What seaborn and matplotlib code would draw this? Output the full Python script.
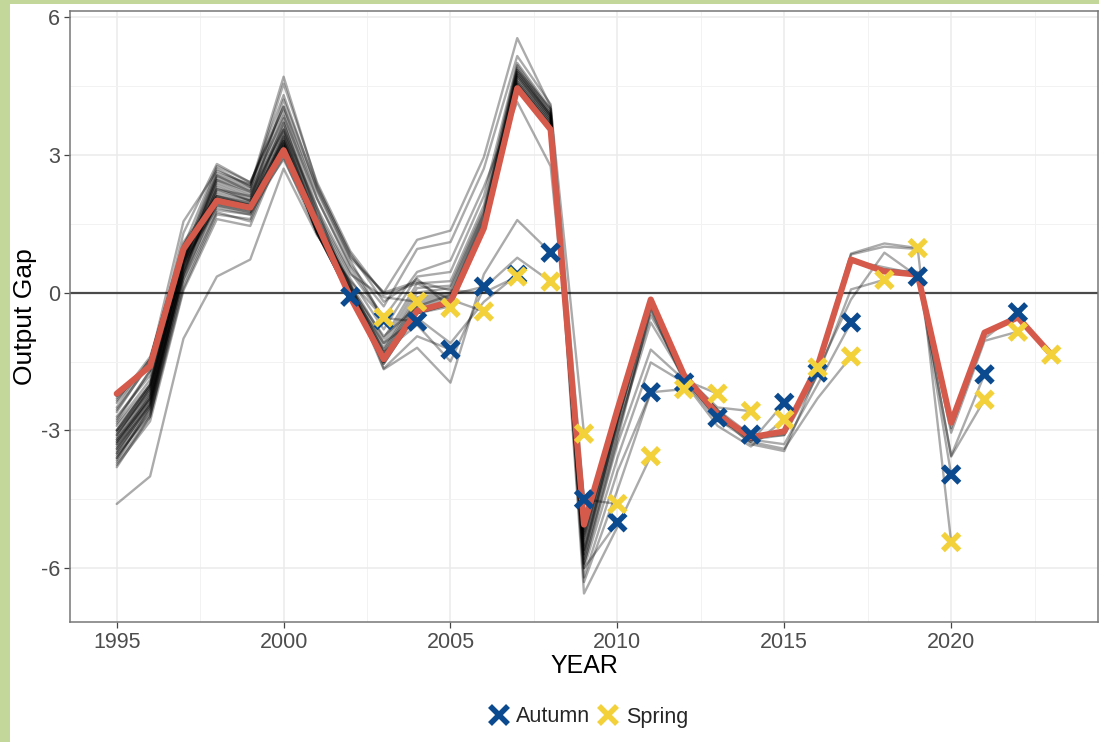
import matplotlib
matplotlib.use("Agg")
import matplotlib.pyplot as plt
from matplotlib.lines import Line2D
from matplotlib.patches import Rectangle
import pandas as pd
import seaborn as sns

FIRST_YEAR = 1995

# Output gap estimates by forecast vintage (each list starts in 1995 and
# ends with that vintage's estimate for its own year).
AUT_2002 = [-3.45, -2.45, 0.45, 2.25, 2.10, 3.55, 1.85, -0.09]
SPR_2003 = [-3.25, -2.20, 0.65, 2.45, 2.20, 3.85, 2.05, 0.55, -0.54]
AUT_2003 = [-3.00, -2.00, 0.85, 2.60, 2.35, 4.05, 2.20, 0.70, -0.60]
SPR_2004 = [-3.60, -2.60, 0.30, 2.00, 1.90, 3.70, 1.75, 0.40, -0.10, -0.20]
AUT_2004 = [-4.60, -4.00, -1.00, 0.35, 0.72, 2.70, 1.25, 0.25, -0.55, -0.63]
SPR_2005 = [-3.30, -2.30, 0.40, 2.30, 2.00, 4.20, 2.30, 0.85, -0.20, 0.30, -0.33]
AUT_2005 = [-3.70, -2.70, 0.10, 1.70, 1.60, 3.40, 1.50, 0.20, -1.65, -0.95, -1.24]
SPR_2006 = [-3.15, -2.10, 0.70, 2.50, 2.25, 4.55, 2.40, 0.90, -0.05, 0.20, -0.15, -0.41]
AUT_2006 = [-3.50, -2.50, 0.30, 1.80, 1.70, 3.30, 1.40, 0.10, -0.95, -0.30, -0.05, 0.13]
SPR_2007 = [-3.10, -2.05, 0.75, 2.55, 2.30, 4.70, 2.35, 0.80, 0.00, 0.24, 0.05, 0.00, 0.35]
AUT_2007 = [-3.55, -2.65, 0.20, 1.75, 1.55, 3.25, 1.30, 0.00, -1.10, -0.55, -1.10, -0.20, 0.39]
SPR_2008 = [-3.40, -2.40, 0.40, 1.90, 1.75, 3.45, 1.55, 0.15, -1.30, -0.70, -1.50, 0.10, 0.76, 0.24]
AUT_2008 = [-3.75, -2.80, 0.05, 1.60, 1.45, 3.20, 1.35, 0.05, -1.67, -1.20, -1.96, 0.40, 1.58, 0.87]
SPR_2009 = [-2.60, -1.50, 1.55, 2.65, 2.35, 4.30, 2.25, 0.75, 0.00, 1.15, 1.35, 2.95, 5.54, 4.05, -3.07]
AUT_2009 = [-2.80, -1.70, 1.30, 2.80, 2.40, 4.05, 2.05, 0.60, -0.30, 0.95, 1.10, 2.70, 5.15, 4.10, -4.50]
SPR_2010 = [-3.00, -2.00, 1.00, 2.75, 2.40, 3.95, 1.85, 0.45, -0.55, 0.45, 0.70, 2.30, 4.15, 2.75, -4.50, -4.60]
AUT_2010 = [-3.30, -2.25, 0.80, 2.70, 2.30, 3.80, 1.70, 0.30, -0.80, 0.35, 0.45, 2.10, 5.00, 4.00, -6.00, -5.00]
SPR_2011 = [-3.50, -2.40, 0.60, 2.55, 2.20, 3.70, 1.65, 0.20, -1.00, 0.20, 0.25, 1.90, 4.95, 3.95, -6.55, -5.10, -3.56]
AUT_2011 = [-3.20, -2.20, 0.70, 2.45, 2.15, 3.60, 1.60, 0.15, -1.10, 0.10, 0.15, 1.80, 4.90, 3.90, -6.30, -4.30, -2.17]
SPR_2012 = [-3.65, -2.50, 0.50, 2.40, 2.10, 3.55, 1.55, 0.10, -1.20, 0.00, 0.10, 1.75, 4.85, 4.00, -6.20, -3.90, -2.17, -2.10]
AUT_2012 = [-3.40, -2.30, 0.60, 2.35, 2.05, 3.50, 1.50, 0.05, -1.25, -0.10, 0.00, 1.70, 4.80, 3.90, -6.00, -3.60, -1.52, -1.96]
SPR_2013 = [-3.80, -2.70, 0.40, 2.20, 2.00, 3.40, 1.45, 0.00, -1.30, -0.15, -0.05, 1.65, 4.85, 3.85, -5.90, -3.30, -1.24, -1.90, -2.20]
AUT_2013 = [-3.10, -2.10, 0.75, 2.25, 2.00, 3.35, 1.40, 0.05, -1.35, -0.20, -0.10, 1.60, 4.75, 3.80, -5.70, -3.00, -0.65, -1.85, -2.72]
SPR_2014 = [-3.35, -2.45, 0.55, 2.10, 1.95, 3.30, 1.35, -0.05, -1.40, -0.25, -0.15, 1.55, 4.80, 3.85, -5.60, -2.90, -0.50, -1.80, -2.50, -2.58]
AUT_2014 = [-3.00, -2.05, 0.70, 2.05, 1.90, 3.25, 1.30, -0.10, -1.45, -0.30, -0.20, 1.50, 4.70, 3.80, -5.80, -3.10, -0.40, -1.90, -2.80, -3.09]
SPR_2015 = [-3.60, -2.55, 0.50, 2.00, 1.85, 3.20, 1.30, -0.10, -1.50, -0.35, -0.25, 1.45, 4.70, 3.75, -5.90, -3.20, -0.35, -1.95, -2.90, -3.35, -2.76]
AUT_2015 = [-2.85, -1.90, 0.85, 2.15, 1.95, 3.30, 1.35, -0.05, -1.40, -0.40, -0.20, 1.50, 4.75, 3.85, -5.70, -2.80, -0.30, -1.85, -2.75, -3.25, -2.40]
SPR_2016 = [-3.25, -2.35, 0.60, 1.95, 1.80, 3.15, 1.30, -0.10, -1.50, -0.45, -0.25, 1.45, 4.65, 3.75, -5.60, -2.85, -0.25, -1.90, -2.70, -3.20, -3.10, -1.63]
AUT_2016 = [-2.70, -1.80, 0.90, 2.10, 1.90, 3.20, 1.40, -0.05, -1.45, -0.40, -0.20, 1.45, 4.60, 3.70, -5.50, -2.80, -0.20, -1.85, -2.65, -3.30, -3.45, -1.74]
SPR_2017 = [-3.05, -2.15, 0.70, 1.90, 1.75, 3.10, 1.35, -0.10, -1.50, -0.40, -0.20, 1.40, 4.60, 3.70, -5.40, -2.75, -0.20, -1.85, -2.60, -3.25, -3.40, -2.30, -1.39]
AUT_2017 = [-2.90, -2.00, 0.80, 1.95, 1.80, 3.05, 1.40, -0.05, -1.45, -0.40, -0.25, 1.40, 4.55, 3.65, -5.30, -2.70, -0.15, -1.80, -2.55, -3.20, -3.30, -2.00, -0.65]
SPR_2018 = [-3.20, -2.30, 0.65, 1.85, 1.70, 2.95, 1.30, -0.10, -1.55, -0.45, -0.30, 1.35, 4.55, 3.65, -5.35, -2.70, -0.20, -1.75, -2.60, -3.15, -3.10, -1.80, 0.07, 0.28]
SPR_2019 = [-2.50, -1.45, 1.10, 2.10, 1.90, 3.00, 1.50, -0.05, -1.50, -0.40, -0.20, 1.40, 4.50, 3.60, -5.20, -2.60, -0.15, -1.80, -2.55, -3.10, -3.05, -1.55, 0.85, 1.07, 0.97]
AUT_2019 = [-2.75, -1.70, 0.95, 2.00, 1.85, 2.90, 1.45, -0.10, -1.55, -0.45, -0.25, 1.35, 4.50, 3.60, -5.25, -2.65, -0.20, -1.80, -2.60, -3.20, -3.05, -1.70, -0.15, 0.87, 0.35]
SPR_2020 = [-2.55, -1.55, 1.05, 2.05, 1.90, 3.05, 1.50, -0.05, -1.50, -0.40, -0.20, 1.40, 4.50, 3.60, -5.15, -2.60, -0.15, -1.80, -2.60, -3.15, -3.00, -1.60, 0.83, 1.00, 0.95, -5.43]
AUT_2020 = [-2.40, -1.45, 1.00, 2.00, 1.85, 3.05, 1.50, -0.05, -1.45, -0.40, -0.20, 1.40, 4.45, 3.55, -5.10, -2.60, -0.15, -1.80, -2.60, -3.15, -3.00, -1.60, 0.70, 0.55, 0.40, -3.96]
SPR_2021 = [-2.35, -1.40, 1.00, 2.00, 1.85, 3.10, 1.50, -0.10, -1.45, -0.40, -0.20, 1.40, 4.45, 3.55, -5.05, -2.55, -0.15, -1.80, -2.60, -3.15, -3.00, -1.60, 0.70, 0.50, 0.45, -3.57, -2.33]
AUT_2021 = [-2.30, -1.55, 0.95, 2.00, 1.85, 3.10, 1.50, -0.10, -1.45, -0.40, -0.20, 1.40, 4.45, 3.55, -5.05, -2.55, -0.15, -1.80, -2.60, -3.15, -3.00, -1.60, 0.70, 0.50, 0.40, -3.55, -1.78]
SPR_2022 = [-2.25, -1.60, 0.95, 2.00, 1.85, 3.10, 1.50, -0.10, -1.45, -0.40, -0.20, 1.40, 4.45, 3.55, -5.00, -2.55, -0.15, -1.80, -2.60, -3.15, -3.00, -1.60, 0.68, 0.48, 0.40, -3.05, -1.05, -0.85]
AUT_2022 = [-2.25, -1.60, 0.95, 2.00, 1.85, 3.10, 1.50, -0.10, -1.45, -0.40, -0.20, 1.40, 4.45, 3.55, -5.00, -2.55, -0.15, -1.80, -2.60, -3.15, -3.00, -1.60, 0.68, 0.46, 0.40, -2.95, -1.00, -0.43]
# Latest vintage (highlighted)
SPR_2023 = [-2.20, -1.60, 0.95, 2.00, 1.85, 3.10, 1.50, -0.10, -1.45, -0.40, -0.20, 1.40, 4.45, 3.55, -5.05, -2.55, -0.15, -1.80, -2.65, -3.15, -3.02, -1.60, 0.72, 0.46, 0.39, -2.83, -0.87, -0.54, -1.35]

VINTAGES = [
    ("Autumn", AUT_2002), ("Spring", SPR_2003), ("Autumn", AUT_2003),
    ("Spring", SPR_2004), ("Autumn", AUT_2004), ("Spring", SPR_2005),
    ("Autumn", AUT_2005), ("Spring", SPR_2006), ("Autumn", AUT_2006),
    ("Spring", SPR_2007), ("Autumn", AUT_2007), ("Spring", SPR_2008),
    ("Autumn", AUT_2008), ("Spring", SPR_2009), ("Autumn", AUT_2009),
    ("Spring", SPR_2010), ("Autumn", AUT_2010), ("Spring", SPR_2011),
    ("Autumn", AUT_2011), ("Spring", SPR_2012), ("Autumn", AUT_2012),
    ("Spring", SPR_2013), ("Autumn", AUT_2013), ("Spring", SPR_2014),
    ("Autumn", AUT_2014), ("Spring", SPR_2015), ("Autumn", AUT_2015),
    ("Spring", SPR_2016), ("Autumn", AUT_2016), ("Spring", SPR_2017),
    ("Autumn", AUT_2017), ("Spring", SPR_2018), ("Spring", SPR_2019),
    ("Autumn", AUT_2019), ("Spring", SPR_2020), ("Autumn", AUT_2020),
    ("Spring", SPR_2021), ("Autumn", AUT_2021), ("Spring", SPR_2022),
    ("Autumn", AUT_2022), ("Spring", SPR_2023),
]

X_TICKS = [1995, 2000, 2005, 2010, 2015, 2020]
Y_TICKS = [-6, -3, 0, 3, 6]

BLUE = "#0B4A8E"
YELLOW = "#F2D13A"
RED = "#D65A4B"
FRAME_GREEN = "#C4D79B"

# Long-format tables: every vintage path, plus each vintage's own-year estimate
rows, ends = [], []
for i, (season, values) in enumerate(VINTAGES):
    last_year = FIRST_YEAR + len(values) - 1
    label = f"{season} {last_year}"
    for k, v in enumerate(values):
        rows.append({"vintage": label, "order": i, "year": FIRST_YEAR + k, "gap": v})
    ends.append({"season": season, "year": last_year, "gap": values[-1]})
paths = pd.DataFrame(rows)
ends = pd.DataFrame(ends)
ends["season"] = pd.Categorical(ends["season"], ["Autumn", "Spring"])
ends = ends.sort_values("season", kind="stable")
latest_label = paths.loc[paths["order"] == paths["order"].max(), "vintage"].iloc[0]
latest = paths[paths["vintage"] == latest_label]

sns.set_theme(style="whitegrid")
plt.rcParams["font.family"] = ["Liberation Sans", "DejaVu Sans"]

W, H = 1099, 742
fig = plt.figure(figsize=(W / 100, H / 100), dpi=100)
fig.patch.set_facecolor("white")
ax = fig.add_axes([70 / W, 1 - 622 / H, (1098 - 70) / W, (622 - 11) / H])
ax.set_facecolor("white")

ax.axhline(0, color="#4a4a4a", linewidth=1.6, zorder=1)

sns.lineplot(data=paths, x="year", y="gap", units="vintage", estimator=None,
             color="black", alpha=0.33, linewidth=1.7, legend=False, ax=ax,
             zorder=2)
sns.lineplot(data=latest, x="year", y="gap", color=RED, linewidth=4.4,
             legend=False, ax=ax, zorder=3)
sns.scatterplot(data=ends, x="year", y="gap", hue="season",
                palette={"Autumn": BLUE, "Spring": YELLOW}, marker="x",
                s=140, linewidth=4.0, legend=False, ax=ax, zorder=4)

ax.set_xlim(1993.6, 2024.4)
ax.set_ylim(-7.17, 6.13)
ax.set_xticks(X_TICKS)
ax.set_yticks(Y_TICKS)
ax.set_xticklabels([str(t) for t in X_TICKS])
ax.set_yticklabels([str(t) for t in Y_TICKS])
ax.set_xticks([1997.5, 2002.5, 2007.5, 2012.5, 2017.5, 2022.5], minor=True)
ax.set_yticks([-4.5, -1.5, 1.5, 4.5], minor=True)
ax.grid(which="major", color="#EBEBEB", linewidth=1.1)
ax.grid(which="minor", color="#F2F2F2", linewidth=0.7)
ax.set_axisbelow(True)
for side in ax.spines.values():
    side.set_visible(True)
    side.set_color("#777777")
    side.set_linewidth(1.1)
ax.tick_params(axis="both", which="major", length=4, width=0.9,
               color="#444444", labelsize=15.5, labelcolor="#4D4D4D", pad=3,
               bottom=True, left=True)
ax.tick_params(axis="both", which="minor", length=0)
ax.set_xlabel("YEAR", fontsize=18, color="black", labelpad=1)
ax.set_ylabel("Output Gap", fontsize=19, color="black", labelpad=3)

handles = [
    Line2D([], [], linestyle="None", marker="x", color=BLUE, markersize=13,
           markeredgewidth=4.0),
    Line2D([], [], linestyle="None", marker="x", color=YELLOW, markersize=13,
           markeredgewidth=4.0),
]
fig.legend(handles, ["Autumn", "Spring"], loc="center", ncol=2,
           bbox_to_anchor=(588 / W, 1 - 717 / H), frameon=False,
           fontsize=15.5, handlelength=1.0, handletextpad=0.3,
           columnspacing=0.35)

# Page frame strips
fig.patches.append(Rectangle((0, 0), 10 / W, 1, transform=fig.transFigure,
                             facecolor=FRAME_GREEN, edgecolor="none", zorder=10))
fig.patches.append(Rectangle((0, 1 - 4 / H), 1, 4 / H, transform=fig.transFigure,
                             facecolor=FRAME_GREEN, edgecolor="none", zorder=10))

fig.savefig("out.png", dpi=100, facecolor="white")
